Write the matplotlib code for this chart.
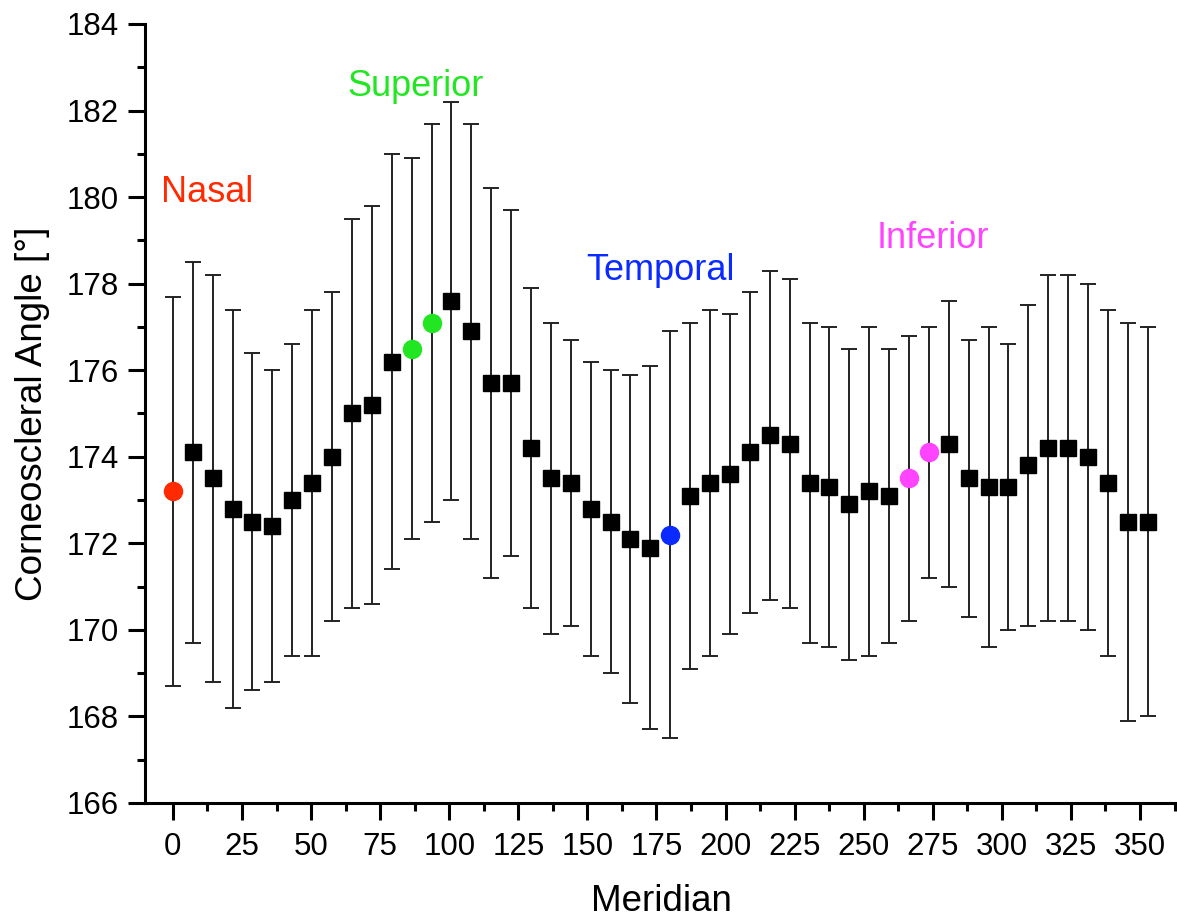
import matplotlib
matplotlib.use("Agg")
import matplotlib.pyplot as plt
from matplotlib.ticker import MultipleLocator
import numpy as np

plt.rcParams["font.family"] = ["Liberation Sans", "DejaVu Sans"]

# meridians every 7.2 deg
meridian = np.arange(50) * 7.2
angle = [173.2, 174.1, 173.5, 172.8, 172.5, 172.4, 173.0, 173.4, 174.0, 175.0,
         175.2, 176.2, 176.5, 177.1, 177.6, 176.9, 175.7, 175.7, 174.2, 173.5,
         173.4, 172.8, 172.5, 172.1, 171.9, 172.2, 173.1, 173.4, 173.6, 174.1,
         174.5, 174.3, 173.4, 173.3, 172.9, 173.2, 173.1, 173.5, 174.1, 174.3,
         173.5, 173.3, 173.3, 173.8, 174.2, 174.2, 174.0, 173.4, 172.5, 172.5]
sd = [4.5, 4.4, 4.7, 4.6, 3.9, 3.6, 3.6, 4.0, 3.8, 4.5,
      4.6, 4.8, 4.4, 4.6, 4.6, 4.8, 4.5, 4.0, 3.7, 3.6,
      3.3, 3.4, 3.5, 3.8, 4.2, 4.7, 4.0, 4.0, 3.7, 3.7,
      3.8, 3.8, 3.7, 3.7, 3.6, 3.8, 3.4, 3.3, 2.9, 3.3,
      3.2, 3.7, 3.3, 3.7, 4.0, 4.0, 4.0, 4.0, 4.6, 4.5]

# highlighted meridians (index -> colour) and region labels
hi_idx = [0, 12, 13, 25, 37, 38]
hi_col = ["#ff2a00", "#22e622", "#22e622", "#0a2aff", "#ff44ff", "#ff44ff"]
labels = ["Nasal", "Superior", "Temporal", "Inferior"]
label_x = [12.3, 88.0, 176.3, 275.0]
label_y = [180.1, 182.55, 178.3, 179.05]
label_col = ["#ff2a00", "#22e622", "#0a2aff", "#ff44ff"]

meridian = np.asarray(meridian)
angle = np.asarray(angle)
sd = np.asarray(sd)

fig = plt.figure(figsize=(11.77, 9.18), dpi=100)
ax = fig.add_axes([0.1232, 0.1253, 0.8768, 0.8486])

ax.errorbar(meridian, angle, yerr=sd, fmt="none", ecolor="#222222",
            elinewidth=1.4, capsize=6, capthick=1.4, zorder=1)
sq = np.ones(len(meridian), bool)
sq[hi_idx] = False
ax.plot(meridian[sq], angle[sq], "s", color="black", ms=12, zorder=3)
for i, c in zip(hi_idx, hi_col):
    ax.plot(meridian[i], angle[i], "o", color=c, ms=13, mec=c, zorder=3)

for t, x, y, c in zip(labels, label_x, label_y, label_col):
    ax.text(x, y, t, color=c, fontsize=26, ha="center", va="center")

ax.set_xlim(-10.1, 363.4)
ax.set_ylim(166, 184)
ax.xaxis.set_major_locator(MultipleLocator(25))
ax.xaxis.set_minor_locator(MultipleLocator(12.5))
ax.yaxis.set_major_locator(MultipleLocator(2))
ax.yaxis.set_minor_locator(MultipleLocator(1))
ax.tick_params(which="major", direction="out", length=12, width=2.2,
               labelsize=22.5, pad=7)
ax.tick_params(which="minor", direction="out", length=6, width=2.2)
ax.tick_params(axis="x", which="major", pad=9)
for s in ["top", "right"]:
    ax.spines[s].set_visible(False)
for s in ["left", "bottom"]:
    ax.spines[s].set_linewidth(2.2)

ax.set_xlabel("Meridian", fontsize=26.5, labelpad=16)
ax.set_ylabel("Corneoscleral Angle [°]", fontsize=26.5, labelpad=12)

fig.savefig("out.png", dpi=100, facecolor="white")
